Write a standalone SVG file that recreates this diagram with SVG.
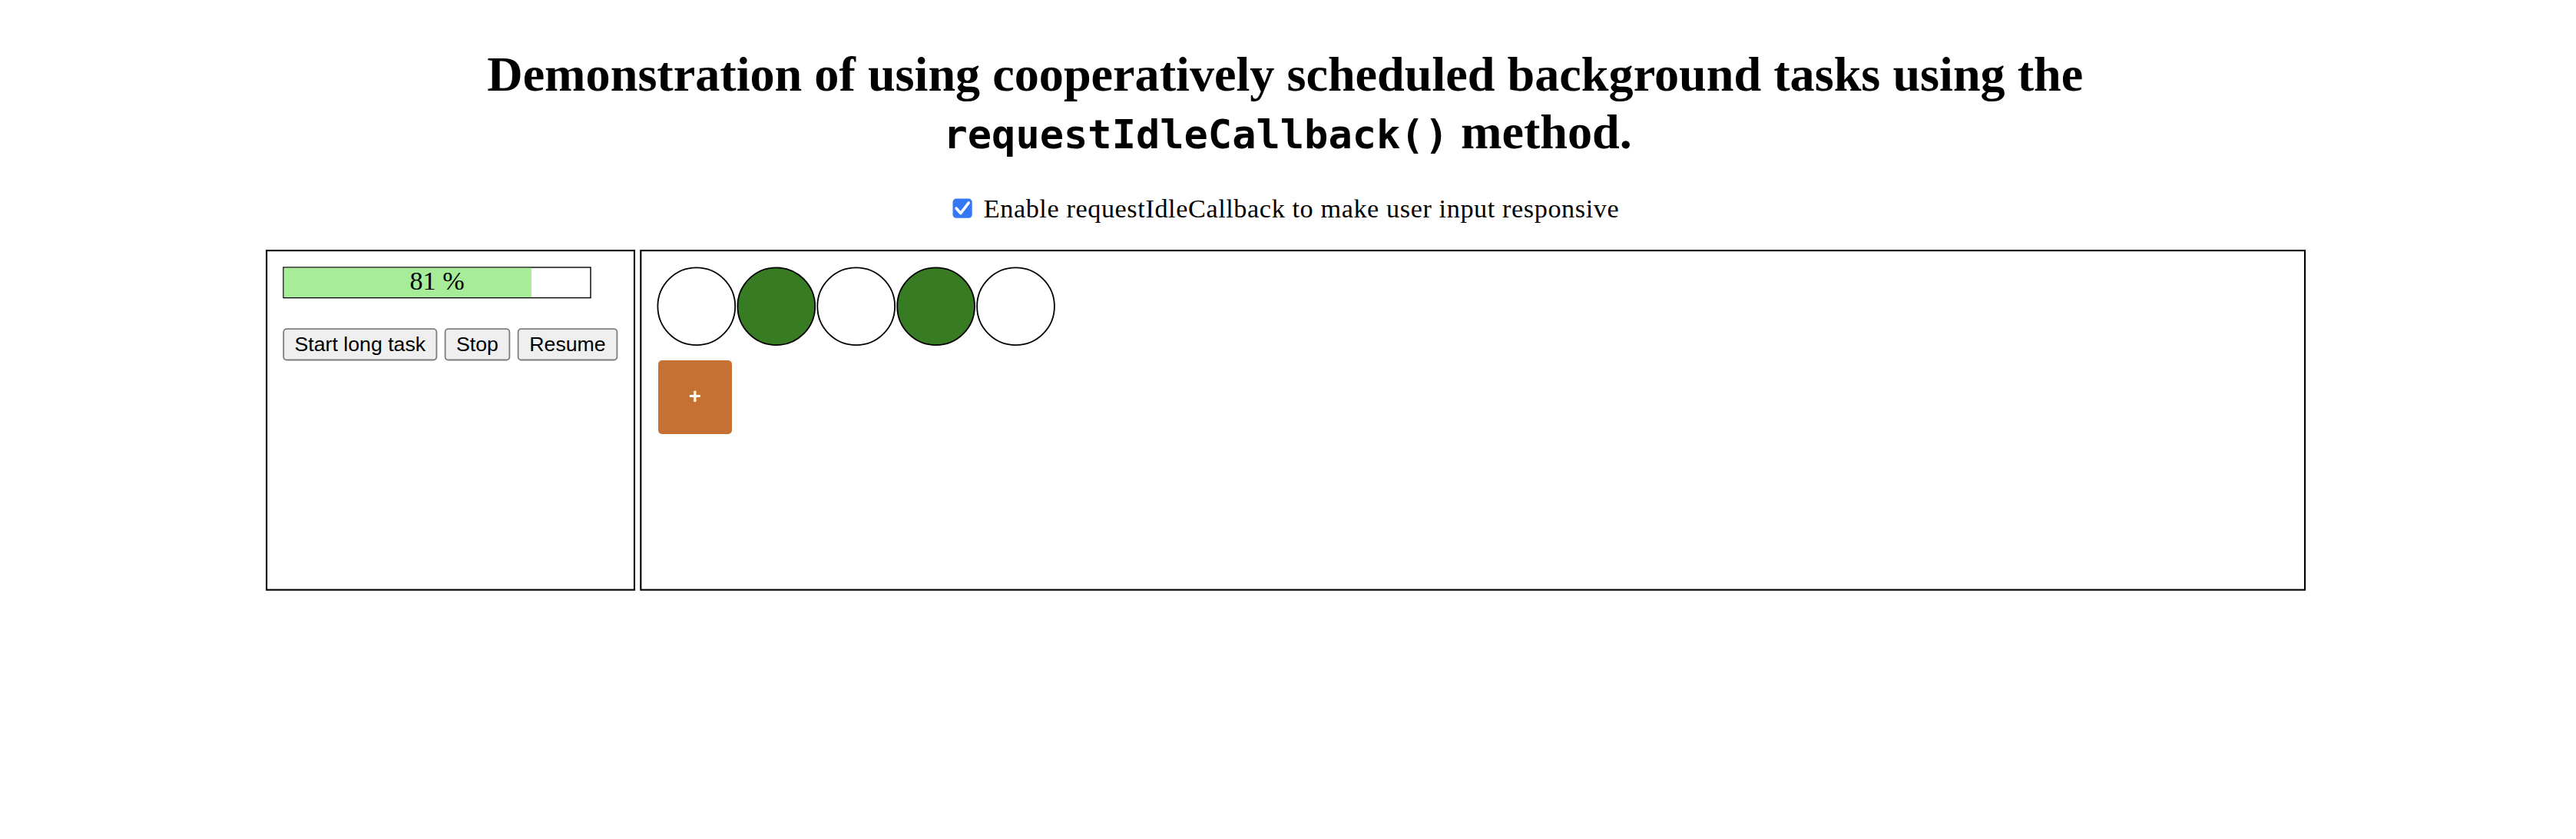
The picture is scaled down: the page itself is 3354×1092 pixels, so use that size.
<svg xmlns="http://www.w3.org/2000/svg" width="3354" height="1092" viewBox="0 0 3354 1092">
<style>
.serif{font-family:"Liberation Serif","Times New Roman",serif;fill:#000}
.mono{font-family:"DejaVu Sans Mono","Liberation Mono",monospace;font-weight:bold}
.sans{font-family:"Liberation Sans",Arial,sans-serif;fill:#000}
.panel{fill:none;stroke:#000;stroke-width:2.1}
.btn{fill:#efefef;stroke:#7d7d7d;stroke-width:1.8}
.btntxt{font-size:26.7px;text-anchor:middle}
.dot{stroke:#000;stroke-width:1.8}
.on{fill:#377b22}
.off{fill:#fff}
</style>
<rect x="0" y="0" width="3354" height="1092" fill="#fff"/>
<g id="title">
<text class="serif" x="1673.3" y="118.3" font-size="64.2" font-weight="bold" text-anchor="middle">Demonstration of using cooperatively scheduled background tasks using the</text>
<text class="serif" x="1676.7" y="193.3" font-size="64.2" font-weight="bold" text-anchor="middle"><tspan class="mono" font-size="52">requestIdleCallback()</tspan> method.</text>
</g>
<g id="option">
<rect x="1240.5" y="258.6" width="25.2" height="25.2" rx="4.5" fill="#3478f6"/>
<polyline points="1245.2,271.2 1250.8,277.6 1261.2,264" fill="none" stroke="#fff" stroke-width="3.6" stroke-linecap="round" stroke-linejoin="round"/>
<text class="serif" x="1280.7" y="282.7" font-size="34.2" textLength="827" lengthAdjust="spacing">Enable requestIdleCallback to make user input responsive</text>
</g>
<g id="connectors"></g>
<g id="control-panel">
<rect class="panel" x="347.1" y="326.1" width="478.9" height="441.6"/>
<g id="progress">
<rect x="369" y="348" width="400" height="39.6" fill="#fff" stroke="#000" stroke-width="1.4"/>
<rect x="369.7" y="348.7" width="322.3" height="38.3" fill="#a7ec98"/>
<text class="serif" x="569" y="376.7" font-size="34.2" text-anchor="middle">81 %</text>
</g>
<g id="btn-start">
<rect class="btn" x="369.2" y="428.2" width="199.2" height="40.3" rx="4"/>
<text class="sans btntxt" x="468.8" y="456.7">Start long task</text>
</g>
<g id="btn-stop">
<rect class="btn" x="579.6" y="428.2" width="83.8" height="40.3" rx="4"/>
<text class="sans btntxt" x="621.5" y="456.7">Stop</text>
</g>
<g id="btn-resume">
<rect class="btn" x="674.6" y="428.2" width="128.8" height="40.3" rx="4"/>
<text class="sans btntxt" x="739" y="456.7">Resume</text>
</g>
</g>
<g id="display-panel">
<rect class="panel" x="834.3" y="326.1" width="2166.7" height="441.6"/>
<g id="circle-1"><circle class="dot off" cx="906.8" cy="398.7" r="50.4"/></g>
<g id="circle-2"><circle class="dot on" cx="1010.8" cy="398.7" r="50.4"/></g>
<g id="circle-3"><circle class="dot off" cx="1114.7" cy="398.7" r="50.4"/></g>
<g id="circle-4"><circle class="dot on" cx="1218.6" cy="398.7" r="50.4"/></g>
<g id="circle-5"><circle class="dot off" cx="1322.5" cy="398.7" r="50.4"/></g>
<g id="add-button">
<rect x="857" y="469" width="96" height="96" rx="5" fill="#c57134"/>
<text class="sans" x="905" y="525" font-size="27" font-weight="bold" fill="#fff" style="fill:#fff" text-anchor="middle">+</text>
</g>
</g>
</svg>
